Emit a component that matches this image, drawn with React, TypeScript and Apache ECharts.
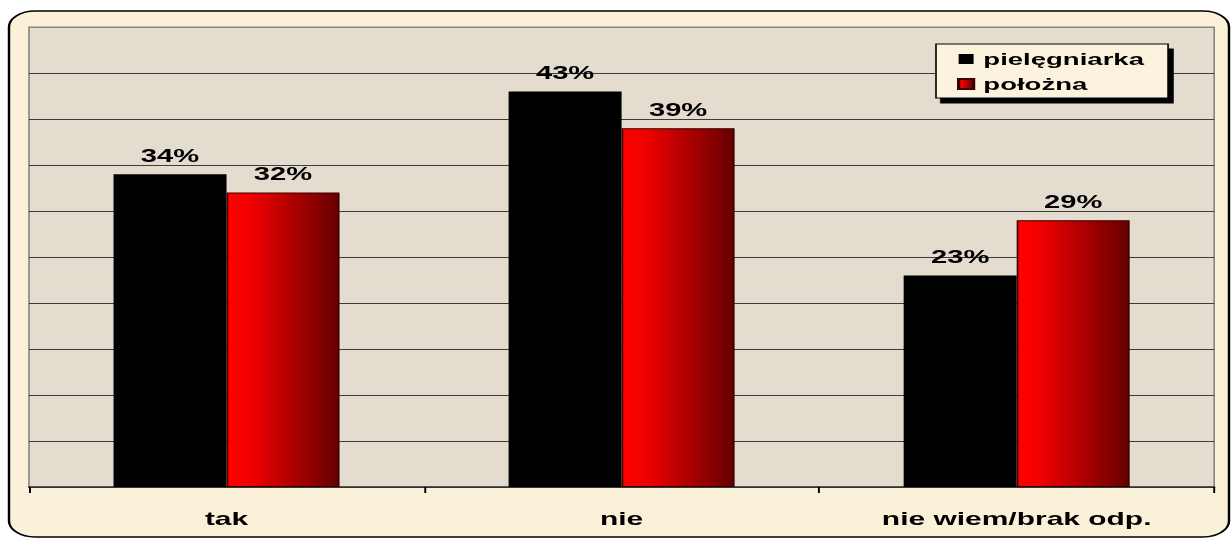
import React, { useEffect, useRef } from "react";
import * as echarts from "echarts";

const categories = ["tak", "nie", "nie wiem/brak odp."];
const seriesNames = ["pielęgniarka", "położna"];
const nurseValues = [34, 43, 23];
const midwifeValues = [32, 39, 29];
const yTicks = { min: 0, max: 50, interval: 5 };

const PAGE_W = 1232;
const PAGE_H = 541;
const S = 1.62; // horizontal stretch of the original picture
const W = PAGE_W / S;
const px = (x: number) => x / S;

export default function App() {
  const ref = useRef<HTMLDivElement>(null);
  useEffect(() => {
    if (!ref.current) return;
    const chart = echarts.init(ref.current, undefined, { renderer: "svg" });
    const font = "Arial, 'Liberation Sans', sans-serif";
    const splitColors: string[] = [];
    for (let v = yTicks.min; v <= yTicks.max; v += yTicks.interval) {
      splitColors.push(v === yTicks.max ? "#8a8a8a" : "#3c3c3c");
    }
    const redGradient = new echarts.graphic.LinearGradient(0, 0, 1, 0, [
      { offset: 0, color: "#ff0000" },
      { offset: 0.2, color: "#f20000" },
      { offset: 1, color: "#660000" },
    ]);
    const labelStyle = {
      show: true,
      position: "top",
      distance: 10,
      formatter: "{c}%",
      fontFamily: font,
      fontWeight: "bold",
      fontSize: 18,
      color: "#000",
    };
    chart.setOption({
      animation: false,
      backgroundColor: "transparent",
      graphic: [
        {
          type: "rect",
          z: -10,
          shape: { x: px(9), y: 11, width: px(1220), height: 526, r: 16 },
          style: { fill: "#fbf0d8", stroke: "#000", lineWidth: 1.5 },
        },
      ],
      grid: {
        left: px(29),
        right: px(PAGE_W - 1215),
        top: 27,
        bottom: PAGE_H - 487,
        show: true,
        backgroundColor: "#e3dccf",
        borderColor: "#858585",
        borderWidth: 1,
      },
      legend: {
        orient: "vertical",
        left: px(936),
        top: 44,
        padding: [6, px(24), 5, px(21)],
        icon: "rect",
        itemWidth: px(15),
        itemHeight: 10,
        itemGap: 7,
        backgroundColor: "#fcf3de",
        borderColor: "#000",
        borderWidth: 1,
        shadowColor: "#000",
        shadowBlur: 0,
        shadowOffsetX: 3,
        shadowOffsetY: 5,
        textStyle: {
          fontFamily: font,
          fontWeight: "bold",
          fontSize: 17,
          lineHeight: 18,
          color: "#000",
          padding: [0, 0, 0, 1],
        },
        data: seriesNames,
      },
      xAxis: {
        type: "category",
        data: categories,
        axisLine: { lineStyle: { color: "#333", width: 1.5 } },
        axisTick: { show: true, length: 6, lineStyle: { color: "#000", width: 1.2 } },
        axisLabel: {
          margin: 22,
          fontFamily: font,
          fontWeight: "bold",
          fontSize: 18.5,
          color: "#000",
        },
        splitLine: { show: false },
      },
      yAxis: {
        type: "value",
        min: yTicks.min,
        max: yTicks.max,
        interval: yTicks.interval,
        axisLabel: { show: false },
        axisLine: { show: false },
        axisTick: { show: false },
        splitLine: { show: true, lineStyle: { color: splitColors, width: 1 } },
      },
      series: [
        {
          name: seriesNames[0],
          type: "bar",
          data: nurseValues,
          barWidth: px(113),
          barGap: "0%",
          itemStyle: { color: "#000" },
          label: labelStyle,
        },
        {
          name: seriesNames[1],
          type: "bar",
          data: midwifeValues,
          barWidth: px(113),
          barGap: "0%",
          itemStyle: { color: redGradient, borderColor: "#3a0000", borderWidth: 1 },
          label: labelStyle,
        },
      ],
    });
    return () => chart.dispose();
  }, []);
  return (
    <div
      style={{
        position: "absolute",
        left: 0,
        top: 0,
        width: PAGE_W,
        height: PAGE_H,
        overflow: "hidden",
        background: "#fff",
      }}
    >
      <div
        ref={ref}
        style={{
          width: W,
          height: PAGE_H,
          transform: `scaleX(${S})`,
          transformOrigin: "0 0",
        }}
      />
    </div>
  );
}
